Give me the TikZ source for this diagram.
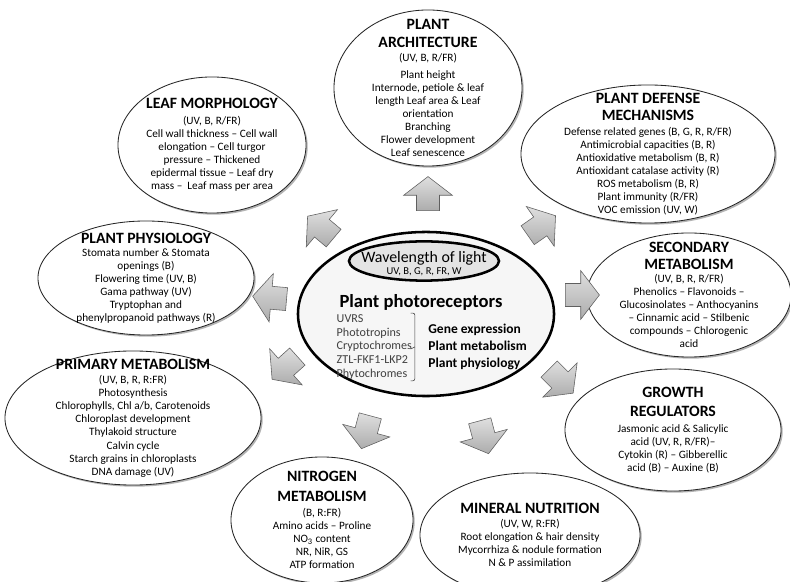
\documentclass[tikz,border=0pt]{standalone}
\usepackage{fontspec}
\setmainfont{Carlito}
\usepackage{tikz}
\usetikzlibrary{shapes,shadows,positioning,calc}
\usepackage{xcolor}
\definecolor{shadowgray}{RGB}{105,105,105}
\definecolor{arrowedge}{RGB}{95,95,95}
\definecolor{corefill}{RGB}{246,246,246}
\definecolor{wavefill}{RGB}{228,228,228}
\definecolor{listgray}{RGB}{64,64,64}
\newcommand{\heading}[1]{{\fontsize{11.2}{12}\selectfont\bfseries #1}}

\begin{document}
\begin{tikzpicture}[x=0.025cm, y=-0.025cm, node distance=0.4cm, >=latex]
    \tikzstyle{topic} = [ellipse, draw=black!85, fill=white, line width=0.6pt, inner sep=0pt, drop shadow={shadow xshift=1.2pt, shadow yshift=-1.2pt, fill=shadowgray}]
    \tikzstyle{topictext} = [align=center, inner sep=0pt, font=\fontsize{8}{9.3}\selectfont]
    \tikzstyle{core} = [ellipse, draw, line width=1.8pt, fill=corefill, minimum width=6.4cm, minimum height=4.1cm]
    \tikzstyle{wavebox} = [ellipse, draw, line width=1.8pt, fill=wavefill, inner sep=0pt, minimum width=3.75cm, minimum height=0.98cm]
    \tikzstyle{pointer} = [single arrow, draw=arrowedge, top color=gray!25, bottom color=gray!65, minimum height=0.85cm, minimum width=1.2cm, single arrow head extend=0.32cm, single arrow tip angle=105, inner xsep=0pt, inner ysep=0.28cm]
    \tikzstyle{listtext} = [align=left, inner sep=0pt, text=listgray, font=\fontsize{8.6}{9.7}\selectfont]
    \tikzstyle{effects} = [align=left, inner sep=0pt, font=\fontsize{9.6}{12}\selectfont\bfseries]

    \useasboundingbox (0,0) rectangle (790,582);
    \fill [white] (0,0) rectangle (790,582);

    % outer topics
    \node [topic, minimum width=4.7cm, minimum height=3.9cm] (arch) at (428,88) {};
    \node [topictext] (archtext) at (arch) {\heading{PLANT}\\[4pt]\heading{ARCHITECTURE}\\(UV, B, R/FR)\\[3pt]Plant height\\Internode, petiole \& leaf\\length Leaf area \& Leaf\\orientation\\Branching\\Flower development\\Leaf senescence};
    \node [topic, minimum width=4.7cm, minimum height=3.4cm] (leaf) at (212,145) {};
    \node [topictext] (leaftext) at (leaf) {\heading{LEAF MORPHOLOGY}\\[1.5pt](UV, B, R/FR)\\Cell wall thickness -- Cell wall\\elongation -- Cell turgor\\pressure -- Thickened\\epidermal tissue -- Leaf dry\\mass --\ \ Leaf mass per area};
    \node [topic, minimum width=6.35cm, minimum height=3.45cm] (defense) at (648,154) {};
    \node [topictext] (defensetext) at (defense) {\heading{PLANT DEFENSE}\\[3pt]\heading{MECHANISMS}\\[1pt]Defense related genes (B, G, R, R/FR)\\Antimicrobial capacities (B, R)\\Antioxidative metabolism (B, R)\\Antioxidant catalase activity (R)\\ROS metabolism (B, R)\\Plant immunity (R/FR)\\VOC emission (UV, W)};
    \node [topic, minimum width=5.4cm, minimum height=2.85cm] (physio) at (146,278) {};
    \node [topictext] (physiotext) at (physio) {\heading{PLANT PHYSIOLOGY}\\Stomata number \& Stomata\\openings (B)\\Flowering time (UV, B)\\Gama pathway (UV)\\Tryptophan and\\phenylpropanoid pathways (R)};
    \node [topic, minimum width=6.4cm, minimum height=3.35cm] (primary) at (133,418) {};
    \node [topictext] (primarytext) at (primary) {\heading{PRIMARY METABOLISM}\\[1pt](UV, B, R, R:FR)\\Photosynthesis\\Chlorophylls, Chl a/b, Carotenoids\\Chloroplast development\\Thylakoid structure\\Calvin cycle\\Starch grains in chloroplasts\\DNA damage (UV)};
    \node [topic, minimum width=5.1cm, minimum height=3.1cm] (secondary) at (689,295) {};
    \node [topictext] (secondarytext) at (secondary) {\heading{SECONDARY}\\[3pt]\heading{METABOLISM}\\[-0.5pt](UV, B, R, R/FR)\\Phenolics -- Flavonoids --\\Glucosinolates -- Anthocyanins\\-- Cinnamic acid -- Stilbenic\\compounds -- Chlorogenic\\acid};
    \node [topic, minimum width=5.4cm, minimum height=3.05cm] (growth) at (673,430) {};
    \node [topictext] (growthtext) at (growth) {\heading{GROWTH}\\[4.5pt]\heading{REGULATORS}\\[1.5pt]Jasmonic acid \& Salicylic\\acid (UV, R, R/FR)--\\Cytokin (R) -- Gibberellic\\acid (B) -- Auxine (B)};
    \node [topic, minimum width=4.55cm, minimum height=3.15cm] (nitrogen) at (322,520) {};
    \node [topictext] (nitrogentext) at (nitrogen) {\heading{NITROGEN}\\[4.5pt]\heading{METABOLISM}\\[1.5pt](B, R:FR)\\Amino acids -- Proline\\NO\textsubscript{3} content\\NR, NiR, GS\\ATP formation};
    \node [topic, minimum width=5.5cm, minimum height=3.1cm] (mineral) at (530,535) {};
    \node [topictext] (mineraltext) at (mineral) {\heading{MINERAL NUTRITION}\\(UV, W, R:FR)\\Root elongation \& hair density\\Mycorrhiza \& nodule formation\\N \& P assimilation};

    % block arrows
    \node [pointer, rotate=90] (toarch) at (428,198) {};
    \node [pointer, rotate=140] (toleaf) at (324,230) {};
    \node [pointer, rotate=35] (todefense) at (538,228) {};
    \node [pointer, rotate=175] (tophysio) at (274,298) {};
    \node [pointer, rotate=222] (toprimary) at (288,365) {};
    \node [pointer, rotate=0] (tosecondary) at (578,295) {};
    \node [pointer, rotate=-45] (togrowth) at (558,378) {};
    \node [pointer, rotate=-105] (tonitrogen) at (367,428) {};
    \node [pointer, rotate=-75] (tomineral) at (483,433) {};

    % centre
    \node [core] (core) at (426,314) {};
    \node [wavebox] (wave) at (424,261) {};
    \node [align=center, inner sep=0pt, font=\fontsize{11.3}{8.5}\selectfont] (wavetext) at (424,264) {Wavelength of light\\{\fontsize{7.5}{8}\selectfont UV, B, G, R, FR, W}};
    \node [inner sep=0pt, font=\fontsize{13.2}{14}\selectfont\bfseries] (photo) at (421,302) {Plant photoreceptors};
    \node [listtext, below right=3pt and -2pt of photo.south west] (receptors) {UVRS\\Phototropins\\Cryptochromes\\ZTL-FKF1-LKP2\\Phytochromes};
    \node [effects, right=0.4cm of receptors] (effects) {Gene expression\\Plant metabolism\\Plant physiology};

    \coordinate (bracetop) at ([xshift=2pt, yshift=1pt]receptors.north east);
    \coordinate (bracebot) at ([xshift=2pt, yshift=-1pt]receptors.south east);
    \draw [listgray, rounded corners=1.5pt] ([xshift=-3pt]bracetop) -- (bracetop) -- (bracebot) -- ([xshift=-3pt]bracebot);
    \draw [listgray] ($(bracetop)!0.5!(bracebot)$) -- ++(-3pt,-1.5pt);
\end{tikzpicture}
\end{document}
